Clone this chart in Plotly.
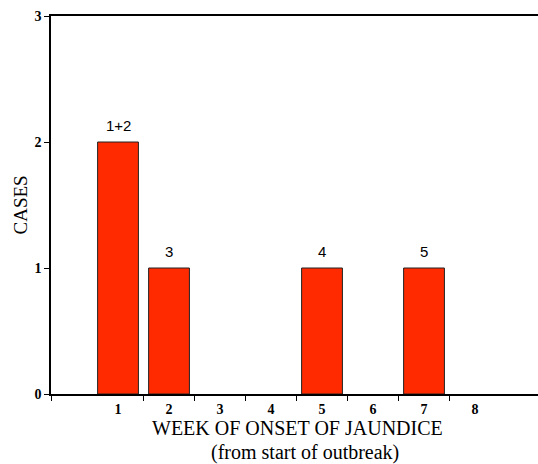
import plotly.graph_objects as go

weeks = [1, 2, 3, 4, 5, 6, 7, 8]
cases = [2, 1, 0, 0, 1, 0, 1, 0]
bar_labels = ["1+2", "3", "", "", "4", "", "5", ""]
week_labels = ["1", "2", "3", "4", "5", "6", "7", "8"]
y_ticks = [0, 1, 2, 3]
x_title = ["WEEK OF ONSET OF JAUNDICE", "(from start of outbreak)"]
y_title = "CASES"

X_MIN, X_MAX = -0.314, 9.235
boundaries = [X_MIN] + [w + 0.5 for w in weeks[:-1]]

fig = go.Figure()
fig.add_trace(go.Bar(
    x=weeks, y=cases, width=0.8,
    marker=dict(color="#FF2A00",
                line=dict(color="#222222", width=[1 if c > 0 else 0 for c in cases])),
    hoverinfo="x+y",
))

for w, c, t in zip(weeks, cases, bar_labels):
    if t:
        fig.add_annotation(x=w, y=c, text=t, showarrow=False, yanchor="bottom",
                           yshift=6, font=dict(family="Liberation Sans, Arial", size=15, color="black"))

serif = "Liberation Serif, Times New Roman, serif"

fig.add_annotation(x=0, y=0.5, xref="paper", yref="paper", text=y_title, textangle=-90,
                   showarrow=False, xanchor="center", yanchor="middle", xshift=-31.5,
                   font=dict(family=serif, size=19, color="black"))
fig.add_annotation(x=0.5, y=0, xref="paper", yref="paper", text=x_title[0],
                   showarrow=False, xanchor="center", yanchor="middle", xshift=3, yshift=-34,
                   font=dict(family=serif, size=20, color="black"))
fig.add_annotation(x=0.5, y=0, xref="paper", yref="paper", text=x_title[1],
                   showarrow=False, xanchor="center", yanchor="middle", xshift=10, yshift=-58,
                   font=dict(family=serif, size=20, color="black"))

fig.update_layout(
    width=538, height=464,
    margin=dict(l=51, r=0, t=16, b=70, autoexpand=False),
    paper_bgcolor="white", plot_bgcolor="white",
    showlegend=False,
    xaxis=dict(
        automargin=False,
        range=[X_MIN, X_MAX], tickvals=weeks, ticktext=week_labels,
        ticks="outside", ticklen=1, tickcolor="rgba(0,0,0,0)",
        showline=True, linecolor="black", linewidth=1.5, mirror=True,
        showgrid=False, zeroline=False,
        tickfont=dict(family=serif, size=14, color="black", weight="bold"),
        minor=dict(tickvals=boundaries, ticks="outside", ticklen=5, tickcolor="black", showgrid=False),
    ),
    yaxis=dict(
        automargin=False,
        range=[0, 3], tickvals=y_ticks,
        ticks="outside", ticklen=5, tickcolor="black",
        showline=True, linecolor="black", linewidth=1.5,
        showgrid=False, zeroline=False,
        tickfont=dict(family=serif, size=14, color="black", weight="bold"),
    ),
)

fig.write_html("out.html", config={"displayModeBar": False},
               post_script="document.body.style.margin='0';document.body.style.overflow='hidden';")
